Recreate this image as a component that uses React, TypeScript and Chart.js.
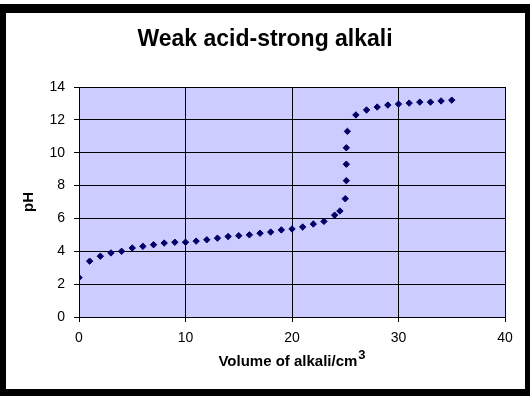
import React, { useEffect, useRef } from "react";
import { Chart, registerables } from "chart.js";

Chart.register(...registerables);

const chartTitle = "Weak acid-strong alkali";
const yAxisTitle = "pH";
const xAxisTitleMain = "Volume of alkali/cm";
const xAxisTitleSup = "3";

const volume = [
  0, 1, 2, 3, 4, 5, 6, 7, 8, 9, 10, 11, 12, 13, 14, 15, 16, 17, 18, 19, 20,
  21, 22, 23, 24, 24.5, 25, 25.1, 25.1, 25.1, 25.2, 26, 27, 28, 29, 30, 31, 32,
  33, 34, 35,
];
const pH = [
  2.4, 3.4, 3.7, 3.9, 4.0, 4.2, 4.3, 4.4, 4.5, 4.55, 4.55, 4.62, 4.7, 4.8,
  4.9, 4.95, 5.0, 5.1, 5.17, 5.3, 5.36, 5.48, 5.66, 5.82, 6.2, 6.45, 7.2, 8.3,
  9.3, 10.3, 11.3, 12.3, 12.6, 12.78, 12.9, 12.96, 13.02, 13.08, 13.08, 13.15,
  13.2,
];

const xMin = 0;
const xMax = 40;
const xStep = 10;
const yMin = 0;
const yMax = 14;
const yStep = 2;

const FONT = '"Liberation Sans", Arial, sans-serif';

export default function App() {
  const ref = useRef<HTMLCanvasElement | null>(null);

  useEffect(() => {
    const canvas = ref.current;
    if (!canvas) return;

    const framePlugin = {
      id: "frame",
      beforeDraw(chart: any) {
        const ctx = chart.ctx;
        const { width, height, chartArea } = chart;
        ctx.save();
        ctx.fillStyle = "#ffffff";
        ctx.fillRect(0, 0, width, height);
        ctx.fillStyle = "#000000";
        ctx.fillRect(0, 4, 530, 392);
        ctx.fillStyle = "#ffffff";
        ctx.fillRect(6, 13, 519, 376);
        ctx.fillStyle = "#CCCCFF";
        ctx.fillRect(
          chartArea.left,
          chartArea.top,
          chartArea.right - chartArea.left,
          chartArea.bottom - chartArea.top
        );
        // chart title, centred on the white frame
        ctx.fillStyle = "#000000";
        ctx.font = `bold 23px ${FONT}`;
        ctx.textAlign = "center";
        ctx.textBaseline = "middle";
        ctx.fillText(chartTitle, 265, 40);
        ctx.restore();
      },
      afterDraw(chart: any) {
        const ctx = chart.ctx;
        const { chartArea } = chart;
        ctx.save();
        ctx.fillStyle = "#000000";
        ctx.textBaseline = "alphabetic";
        ctx.textAlign = "left";
        const mainFont = `bold 15px ${FONT}`;
        const supFont = `bold 13px ${FONT}`;
        ctx.font = mainFont;
        const wMain = ctx.measureText(xAxisTitleMain).width;
        ctx.font = supFont;
        const wSup = ctx.measureText(xAxisTitleSup).width;
        const total = wMain + wSup + 1;
        const cx = (chartArea.left + chartArea.right) / 2;
        const x0 = cx - total / 2;
        const baseline = chartArea.bottom + 49;
        ctx.font = mainFont;
        ctx.fillText(xAxisTitleMain, x0, baseline);
        ctx.font = supFont;
        ctx.fillText(xAxisTitleSup, x0 + wMain + 1, baseline - 7);
        ctx.restore();
      },
    };

    const chart = new Chart(canvas, {
      type: "scatter",
      data: {
        datasets: [
          {
            label: "pH",
            data: volume.map((v, i) => ({ x: v, y: pH[i] })),
            pointStyle: "rectRot",
            pointRadius: 3.2,
            pointBorderWidth: 1,
            backgroundColor: "#000066",
            borderColor: "#000066",
            showLine: false,
          },
        ],
      },
      options: {
        responsive: false,
        animation: false,
        devicePixelRatio: 1,
        layout: { padding: { top: 87, left: 0, right: 27, bottom: 0 } },
        plugins: {
          legend: { display: false },
          tooltip: { enabled: false },
          title: { display: false, text: chartTitle },
        },
        scales: {
          x: {
            type: "linear",
            min: xMin,
            max: xMax,
            afterFit(scale: any) {
              scale.height = 86;
            },
            ticks: {
              stepSize: xStep,
              color: "#000000",
              padding: 8,
              maxRotation: 0,
              font: { family: FONT, size: 14 },
            },
            grid: {
              color: "#000000",
              lineWidth: 1,
              tickLength: 5,
              drawTicks: true,
            },
            border: { color: "#000000", width: 1 },
          },
          y: {
            type: "linear",
            min: yMin,
            max: yMax,
            afterFit(scale: any) {
              scale.width = 79;
            },
            ticks: {
              stepSize: yStep,
              color: "#000000",
              padding: 9,
              font: { family: FONT, size: 14 },
            },
            grid: {
              color: "#000000",
              lineWidth: 1,
              tickLength: 5,
              drawTicks: true,
            },
            border: { color: "#000000", width: 1 },
            title: {
              display: true,
              text: yAxisTitle,
              color: "#000000",
              font: { family: FONT, size: 15, weight: "bold", lineHeight: 1.2 },
              padding: { top: 20, bottom: 0 },
            },
          },
        },
      },
      plugins: [framePlugin],
    });

    return () => chart.destroy();
  }, []);

  return (
    <div
      style={{
        position: "fixed",
        left: 0,
        top: 0,
        width: 532,
        height: 403,
        background: "#ffffff",
      }}
    >
      <canvas ref={ref} width={532} height={403} />
    </div>
  );
}
